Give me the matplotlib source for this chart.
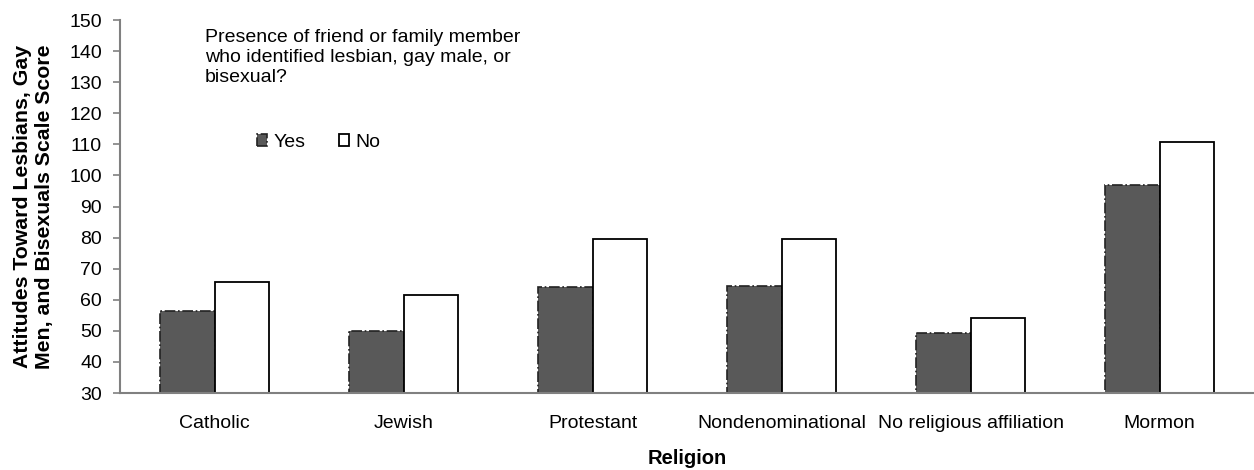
import matplotlib.pyplot as plt
import numpy as np

plt.rcParams['font.family'] = ['Liberation Sans', 'DejaVu Sans']

religions = ['Catholic', 'Jewish', 'Protestant', 'Nondenominational',
             'No religious affiliation', 'Mormon']
yes_scores = [56.4, 49.9, 64.2, 64.4, 49.3, 96.9]
no_scores = [65.6, 61.4, 79.7, 79.7, 54.1, 110.6]
y_ticks = list(range(30, 151, 10))

fig = plt.figure(figsize=(12.54, 4.70), dpi=100)
ax = fig.add_axes([0.0957, 0.1638, 0.9043, 0.7936])

x = np.arange(len(religions))
w = 0.286
ax.bar(x - w / 2, np.array(yes_scores) - 30, w, bottom=30, color='#595959',
       edgecolor='#222222', linewidth=1.2, linestyle='-.', label='Yes')
ax.bar(x + w / 2, np.array(no_scores) - 30, w, bottom=30, color='white',
       edgecolor='black', linewidth=1.3, label='No')

ax.set_xlim(-0.5, len(religions) - 0.5)
ax.set_ylim(30, 150)
ax.set_yticks(y_ticks)
ax.set_xticks(x)
ax.set_xticklabels(religions, fontsize=14)
ax.tick_params(axis='x', length=0, pad=16)
ax.tick_params(axis='y', labelsize=14, color='#808080', length=5, width=1.2, pad=8)

for s in ['top', 'right']:
    ax.spines[s].set_visible(False)
for s in ['left', 'bottom']:
    ax.spines[s].set_color('#808080')
    ax.spines[s].set_linewidth(1.5)

ax.set_ylabel('Attitudes Toward Lesbians, Gay\nMen, and Bisexuals Scale Score',
              fontsize=15.3, fontweight='bold', labelpad=11, linespacing=1.2)
ax.set_xlabel('Religion', fontsize=14.5, fontweight='bold', labelpad=12)

ax.text(0.075, 0.975, 'Presence of friend or family member\nwho identified lesbian, gay male, or\nbisexual?',
        transform=ax.transAxes, fontsize=14, va='top', ha='left', linespacing=1.2)

ax.legend(loc='center left', bbox_to_anchor=(0.1125, 0.672), ncol=2, frameon=False,
          fontsize=14, handlelength=0.52, handleheight=0.52, handletextpad=0.3,
          columnspacing=1.75, borderpad=0)

fig.savefig('out.png', dpi=100)
